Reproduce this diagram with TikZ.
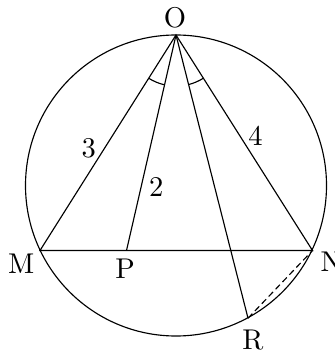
\documentclass[tikz,border=0pt]{standalone}
\usetikzlibrary{angles}
\begin{document}
\begin{tikzpicture}[x=0.35pt,y=-0.35pt,line width=0.4pt,
  lbl/.style={inner sep=0pt,font=\fontsize{10}{12}\selectfont},
  anglemark/.style={draw,line width=0.4pt,angle radius=17.9pt}]
\useasboundingbox (0,0) rectangle (334,352);
\coordinate (C) at (176,185.5);
\coordinate (O) at (176,35);
\coordinate (M) at (40,250.5);
\coordinate (N) at (312.5,250.5);
\coordinate (P) at (126.5,250.5);
\coordinate (R) at (248,318.2);
\draw (C) circle [radius=150.5];
\draw (O) -- (M) -- (N) -- cycle;
\draw (O) -- (P);
\draw (O) -- (R);
\draw[dash pattern=on 2.2pt off 1.3pt] (R) -- (N);
\pic[anglemark] {angle = M--O--P};
\pic[anglemark] {angle = R--O--N};
\node[lbl] (lO) at (175,17.5) {O};
\node[lbl] (lM) at (21.3,263.7) {M};
\node[lbl] (lN) at (331.4,261.5) {N};
\node[lbl] (lP) at (125,268.5) {P};
\node[lbl] (lR) at (253,340) {R};
\node[lbl] (l3) at (88.7,148.3) {3};
\node[lbl] (l2) at (156.3,186.7) {2};
\node[lbl] (l4) at (255.5,135.8) {4};
\end{tikzpicture}
\end{document}
